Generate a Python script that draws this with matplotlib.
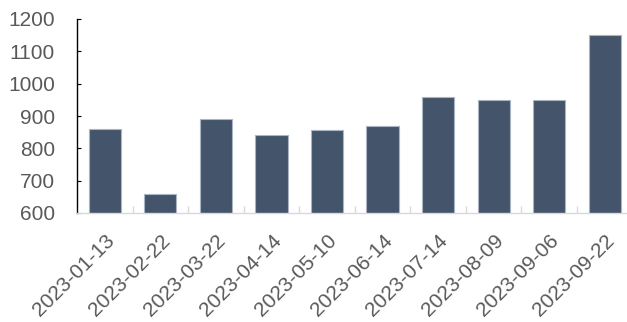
import matplotlib.pyplot as plt
import matplotlib.transforms as mtransforms
from matplotlib.ticker import FixedLocator

plt.rcParams['font.family'] = ['Liberation Sans', 'DejaVu Sans']

dates = ["2023-01-13", "2023-02-22", "2023-03-22", "2023-04-14", "2023-05-10",
         "2023-06-14", "2023-07-14", "2023-08-09", "2023-09-06", "2023-09-22"]
values = [860, 660, 890, 840, 857, 869, 960, 951, 949, 1151]
yticks = [600, 700, 800, 900, 1000, 1100, 1200]


def main():
    fig = plt.figure(figsize=(6.27, 3.22), dpi=100)
    ax = fig.add_axes([77 / 627, 1 - 213 / 322, 550 / 627, 194 / 322])

    x = list(range(len(dates)))
    ax.bar(x, values, width=0.58, bottom=0, color="#44546A",
           edgecolor="#A9B4C4", linewidth=0.8, zorder=2)

    ax.set_xlim(-0.5, len(dates) - 0.6)
    ax.set_ylim(600, 1200)
    ax.set_yticks(yticks)
    ax.set_xticks(x)
    ax.set_xticklabels(dates, rotation=45, ha="right", va="top",
                       rotation_mode="anchor")

    # nudge rotated date labels a little to the left
    shift = mtransforms.ScaledTranslation(-5 / 100, 0, fig.dpi_scale_trans)
    for lbl in ax.get_xticklabels():
        lbl.set_transform(lbl.get_transform() + shift)

    for s in ["top", "right"]:
        ax.spines[s].set_visible(False)
    ax.spines["left"].set_color("black")
    ax.spines["left"].set_linewidth(1.0)
    ax.spines["bottom"].set_color("#D9D9D9")
    ax.spines["bottom"].set_linewidth(1.0)

    ax.tick_params(axis="y", direction="in", length=3, color="black",
                   labelsize=15, labelcolor="#595959", pad=16)
    ax.tick_params(axis="x", which="major", length=0, labelsize=15,
                   labelcolor="#595959", pad=13)
    ax.xaxis.set_minor_locator(FixedLocator([i + 0.5 for i in x[:-1]]))
    ax.tick_params(axis="x", which="minor", direction="in", length=5,
                   color="#D9D9D9", width=1.0)

    fig.savefig("out.png", dpi=100)


if __name__ == "__main__":
    main()
